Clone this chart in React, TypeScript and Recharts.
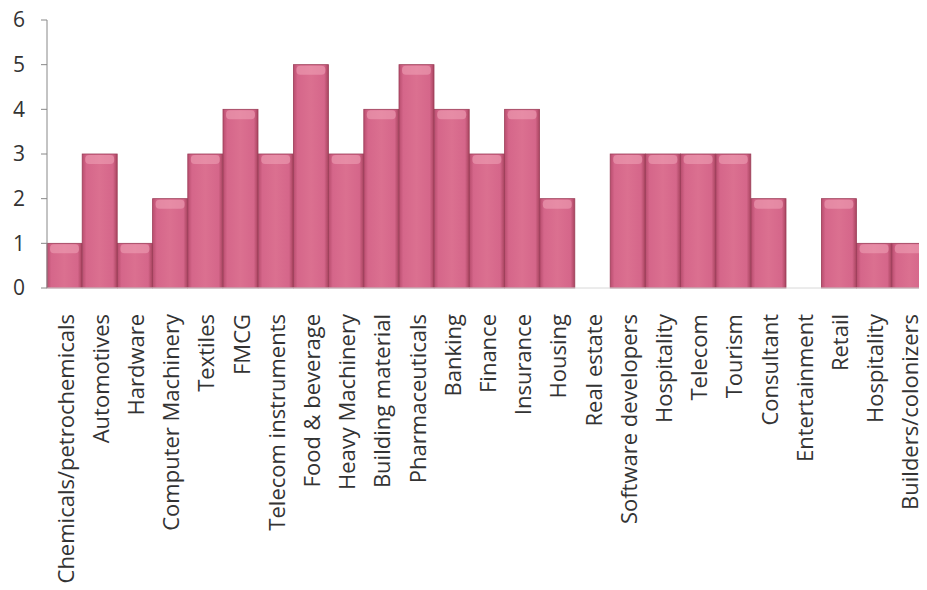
import React from 'react';
import { BarChart, Bar, XAxis, YAxis } from 'recharts';

const sectors = [
  'Chemicals/petrochemicals', 'Automotives', 'Hardware', 'Computer Machinery', 'Textiles',
  'FMCG', 'Telecom instruments', 'Food & beverage', 'Heavy Machinery', 'Building material',
  'Pharmaceuticals', 'Banking', 'Finance', 'Insurance', 'Housing', 'Real estate',
  'Software developers', 'Hospitality', 'Telecom', 'Tourism', 'Consultant',
  'Entertainment', 'Retail', 'Hospitality', 'Builders/colonizers',
];
const counts = [1, 3, 1, 2, 3, 4, 3, 5, 3, 4, 5, 4, 3, 4, 2, 0, 3, 3, 3, 3, 2, 0, 2, 1, 1];
const yTicks = [0, 1, 2, 3, 4, 5, 6];

const data = sectors.map((name, i) => ({ key: i, name, value: counts[i] }));

const SectorTick = (props: any) => {
  const { x, y, payload } = props;
  return (
    <text
      x={x}
      y={y + 18}
      transform={`rotate(-90, ${x}, ${y + 18})`}
      textAnchor="end"
      dominantBaseline="central"
      fontSize={22}
      fill="#333"
      fontFamily="'Open Sans', sans-serif"
    >
      {sectors[payload.value]}
    </text>
  );
};

// bar with a soft lighter cap like the original's glossy look
const GlossBar = (props: any) => {
  const { x, y, width, height } = props;
  if (!height || height <= 0) return null;
  return (
    <g>
      <rect x={x} y={y} width={width} height={height} fill="url(#barFill)" stroke="#9c3d58" strokeWidth={0.8} />
      <rect x={x + 3} y={y + 1} width={width - 6} height={Math.min(9, height - 2)} rx={4} fill="#f0a4b8" opacity={0.55} />
    </g>
  );
};

export default function App() {
  return (
    <div style={{ width: 919, height: 590, position: 'relative', top: -8 }}>
      <BarChart
        width={919}
        height={590}
        data={data}
        margin={{ top: 20, right: 0, bottom: 0, left: 0 }}
        barCategoryGap={0}
      >
        <defs>
          <linearGradient id="barFill" x1="0" y1="0" x2="1" y2="0">
            <stop offset="0%" stopColor="#b84d6e" />
            <stop offset="12%" stopColor="#d5668a" />
            <stop offset="50%" stopColor="#db7090" />
            <stop offset="88%" stopColor="#d5668a" />
            <stop offset="100%" stopColor="#a8445f" />
          </linearGradient>
        </defs>
        <XAxis
          dataKey="key"
          interval={0}
          height={302}
          tick={<SectorTick />}
          tickLine={false}
          axisLine={{ stroke: '#d8d8d8' }}
        />
        <YAxis
          domain={[0, 6]}
          ticks={yTicks}
          width={39}
          tickSize={6}
          tickMargin={16}
          tick={{ fontSize: 21, fill: '#333', fontFamily: "'Open Sans', sans-serif" }}
          axisLine={{ stroke: '#888' }}
          tickLine={{ stroke: '#888' }}
        />
        <Bar dataKey="value" shape={<GlossBar />} isAnimationActive={false} />
      </BarChart>
    </div>
  );
}
